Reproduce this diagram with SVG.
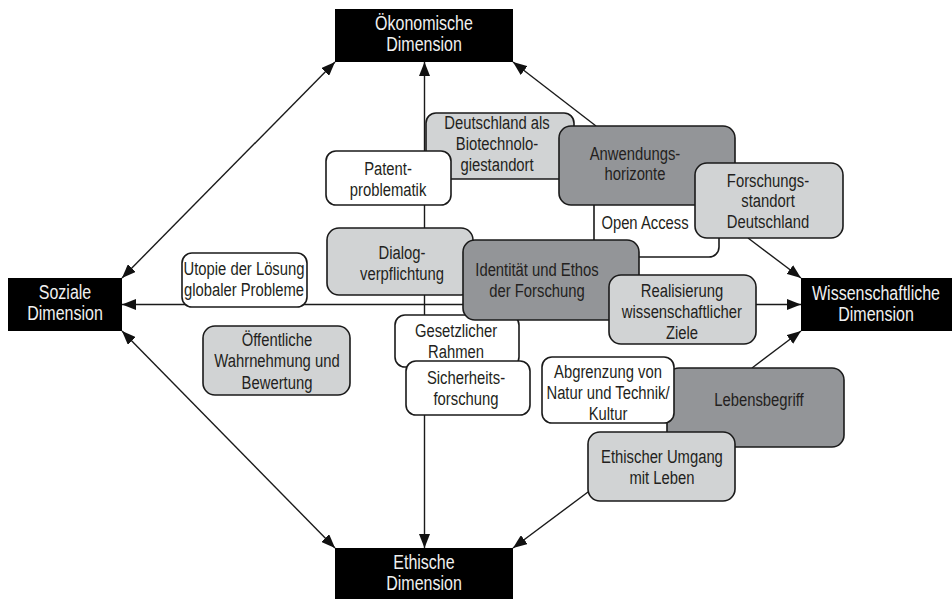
<svg xmlns="http://www.w3.org/2000/svg" width="952" height="599" viewBox="0 0 952 599">
<defs>
<marker id="ah" viewBox="0 0 14 11" refX="14" refY="5.5" markerWidth="14" markerHeight="11" markerUnits="userSpaceOnUse" orient="auto-start-reverse">
<path d="M0,0 L14,5.5 L0,11 Z" fill="#111"/>
</marker>
<style>
text{font-family:"Liberation Sans Narrow","Liberation Sans",Arial,sans-serif;font-size:19px;fill:#231f20;text-anchor:middle;transform-box:fill-box;transform-origin:center;transform:scaleX(0.78)}
.dim rect{fill:#000}
.dim text{fill:#f0f0f0;font-size:20px;transform:scaleX(0.8)}
.box{stroke:#1a1a1a;stroke-width:1.6}
.w{fill:#fff}
.l{fill:#d1d3d4}
.d{fill:#939598}
.c{stroke:#1a1a1a;stroke-width:1.4;fill:none}
</style>
</defs>
<rect width="952" height="599" fill="#fff"/>
<g id="connectors">
<line class="c" x1="424.5" y1="62" x2="424.5" y2="548" marker-start="url(#ah)" marker-end="url(#ah)"/>
<line class="c" x1="122" y1="304.5" x2="801" y2="304.5" marker-start="url(#ah)" marker-end="url(#ah)"/>
<line class="c" x1="335" y1="62" x2="122" y2="278" marker-start="url(#ah)" marker-end="url(#ah)"/>
<line class="c" x1="122" y1="331" x2="335" y2="548" marker-start="url(#ah)" marker-end="url(#ah)"/>
<line class="c" x1="596" y1="126" x2="513" y2="62" marker-end="url(#ah)"/>
<line class="c" x1="748" y1="238" x2="801" y2="278" marker-end="url(#ah)"/>
<line class="c" x1="752" y1="368" x2="801" y2="331" marker-end="url(#ah)"/>
<line class="c" x1="588" y1="492" x2="513" y2="548" marker-end="url(#ah)"/>
</g>
<g id="oekonomische" class="dim"><rect x="335" y="9" width="178" height="53"/><text x="424" y="30">Ökonomische</text><text x="424" y="51">Dimension</text></g>
<g id="soziale" class="dim"><rect x="8" y="278" width="114" height="53"/><text x="65" y="299">Soziale</text><text x="65" y="320">Dimension</text></g>
<g id="wissenschaftliche" class="dim"><rect x="801" y="278" width="152" height="53"/><text x="876" y="300">Wissenschaftliche</text><text x="876" y="321">Dimension</text></g>
<g id="ethische" class="dim"><rect x="335" y="548" width="178" height="53"/><text x="424" y="569">Ethische</text><text x="424" y="590">Dimension</text></g>
<g id="deutschland"><rect class="box l" x="426" y="113" width="148" height="66" rx="10"/><text x="497" y="129">Deutschland als</text><text x="497" y="150">Biotechnolo-</text><text x="497" y="171">giestandort</text></g>
<g id="patent"><rect class="box w" x="326" y="151" width="125" height="54" rx="10"/><text x="388" y="175">Patent-</text><text x="388" y="196">problematik</text></g>
<g id="openaccess"><rect class="box w" x="594" y="195" width="125" height="62" rx="10"/><text x="645" y="229">Open Access</text></g>
<g id="anwendungs"><rect class="box d" x="559" y="126" width="176" height="79" rx="12"/><text x="635" y="160">Anwendungs-</text><text x="635" y="180">horizonte</text></g>
<g id="forschungs"><rect class="box l" x="695" y="163" width="148" height="75" rx="12"/><text x="768" y="187">Forschungs-</text><text x="768" y="207">standort</text><text x="768" y="228">Deutschland</text></g>
<g id="dialog"><rect class="box l" x="327" y="228" width="146" height="67" rx="12"/><text x="402" y="259">Dialog-</text><text x="402" y="280">verpflichtung</text></g>
<g id="gesetzlicher"><rect class="box w" x="395" y="315" width="124" height="52" rx="10"/><text x="456" y="337">Gesetzlicher</text><text x="456" y="358">Rahmen</text></g>
<g id="identitaet"><rect class="box d" x="463" y="240" width="176" height="80" rx="12"/><text x="537" y="276">Identität und Ethos</text><text x="537" y="297">der Forschung</text></g>
<g id="realisierung"><rect class="box l" x="609" y="275" width="147" height="69" rx="12"/><text x="682" y="297">Realisierung</text><text x="682" y="318">wissenschaftlicher</text><text x="682" y="339">Ziele</text></g>
<g id="sicherheits"><rect class="box w" x="406" y="361" width="124" height="54" rx="10"/><text x="466" y="384">Sicherheits-</text><text x="466" y="405">forschung</text></g>
<g id="utopie"><rect class="box w" x="182" y="253" width="125" height="54" rx="10"/><text x="244" y="275">Utopie der Lösung</text><text x="244" y="296">globaler Probleme</text></g>
<g id="oeffentliche"><rect class="box l" x="203" y="326" width="147" height="69" rx="12"/><text x="277" y="346">Öffentliche</text><text x="277" y="367">Wahrnehmung und</text><text x="277" y="389">Bewertung</text></g>
<g id="lebensbegriff"><rect class="box d" x="667" y="368" width="177" height="79" rx="12"/><text x="759" y="406">Lebensbegriff</text></g>
<g id="abgrenzung"><rect class="box w" x="542" y="357" width="132" height="66" rx="10"/><text x="608" y="378">Abgrenzung von</text><text x="608" y="399">Natur und Technik/</text><text x="608" y="420">Kultur</text></g>
<g id="ethischerumgang"><rect class="box l" x="588" y="432" width="147" height="69" rx="12"/><text x="662" y="463">Ethischer Umgang</text><text x="662" y="484">mit Leben</text></g>
</svg>
